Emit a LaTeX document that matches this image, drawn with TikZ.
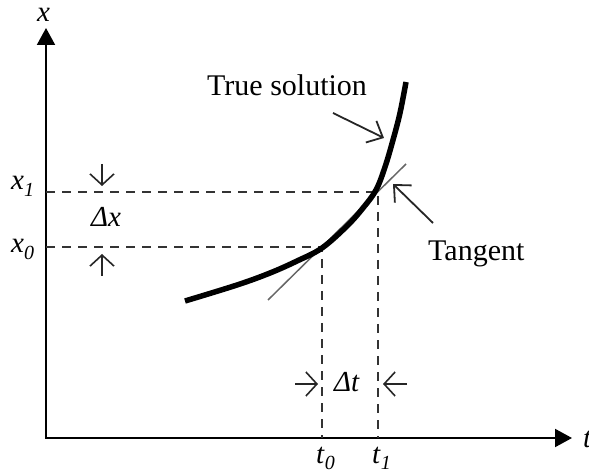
\documentclass[tikz,border=0pt]{standalone}
\usepackage{fontspec}
\setmainfont{Liberation Serif}
\usetikzlibrary{arrows.meta}
\newcommand{\subl}[2]{\textit{#1}\raisebox{-0.22em}{\fontsize{20}{20}\selectfont\textit{#2}}}
\begin{document}
\begin{tikzpicture}[x=1pt,y=-1pt,
  axis/.style={line width=2pt, line join=miter, {Triangle[length=17pt,width=18pt]}-{Triangle[length=17pt,width=18pt]}},
  guide/.style={dash pattern=on 9pt off 7pt, line width=1.5pt, black!80},
  dimarrow/.style={line width=1.6pt, black!85, -{Straight Barb[length=11pt,width=24pt,line width=1.6pt]}},
  pointer/.style={line width=1.8pt, black!85, -{Straight Barb[length=13pt,width=24pt,line width=1.8pt]}},
  txt/.style={font=\fontsize{30}{36}\selectfont, inner sep=0pt, anchor=base west},
  lbl/.style={font=\fontsize{29}{32}\selectfont, inner sep=0pt, anchor=base west}]
\useasboundingbox (0,0) rectangle (589,470);
% axes
\coordinate (O) at (46,438);
\coordinate (ytop) at (46,28);
\coordinate (xend) at (572,438);
\draw[axis] (ytop) -- (O) -- (xend);
% guide points
\coordinate (X1) at (46,192);
\coordinate (X0) at (46,247);
\coordinate (C1) at (378,192);
\coordinate (C0) at (322,247);
\coordinate (T1) at (378,438);
\coordinate (T0) at (322,438);
\draw[guide] (X1) -- (C1) -- (T1);
\draw[guide] (X0) -- (C0) -- (T0);
% tangent line
\coordinate (L0) at (268,300);
\coordinate (L1) at (406,164);
\draw[line width=1.5pt, black!60] (L0) -- (L1);
% true solution curve
\draw[line width=5.5pt] plot[smooth, tension=0.6] coordinates
  {(185,301) (237,285) (270,273) (297,261) (322,248) (347,226) (363,208) (376,190) (385,167) (393,140) (400,113) (406,82)};
% labels
\node[lbl] (xl) at (37,22) {\textit{x}};
\node[lbl] (tl) at (583,447) {\textit{t}};
\node[lbl] (x1l) at (11,190) {\subl{x}{1}};
\node[lbl] (x0l) at (11,253) {\subl{x}{0}};
\node[lbl] (t0l) at (316,463) {\subl{t}{0}};
\node[lbl] (t1l) at (372,463) {\subl{t}{1}};
\node[lbl] (dxl) at (91,227) {\textit{Δx}};
\node[lbl] (dtl) at (334,391) {\textit{Δt}};
\node[txt] (truel) at (207,96) {True solution};
\node[txt] (tanl) at (428,261) {Tangent};
% dimension arrows
\coordinate (dxa) at (102,164); \coordinate (dxb) at (102,186);
\coordinate (dxc) at (102,276); \coordinate (dxd) at (102,254);
\coordinate (dta) at (295,384); \coordinate (dtb) at (318,384);
\coordinate (dtc) at (407,384); \coordinate (dtd) at (383,384);
\draw[dimarrow] (dxa) -- (dxb);
\draw[dimarrow] (dxc) -- (dxd);
\draw[dimarrow] (dta) -- (dtb);
\draw[dimarrow] (dtc) -- (dtd);
% pointer arrows
\coordinate (pa) at (333,113); \coordinate (pb) at (384,138);
\coordinate (pc) at (433,223); \coordinate (pd) at (393,184);
\draw[pointer] (pa) -- (pb);
\draw[pointer] (pc) -- (pd);
\end{tikzpicture}
\end{document}
